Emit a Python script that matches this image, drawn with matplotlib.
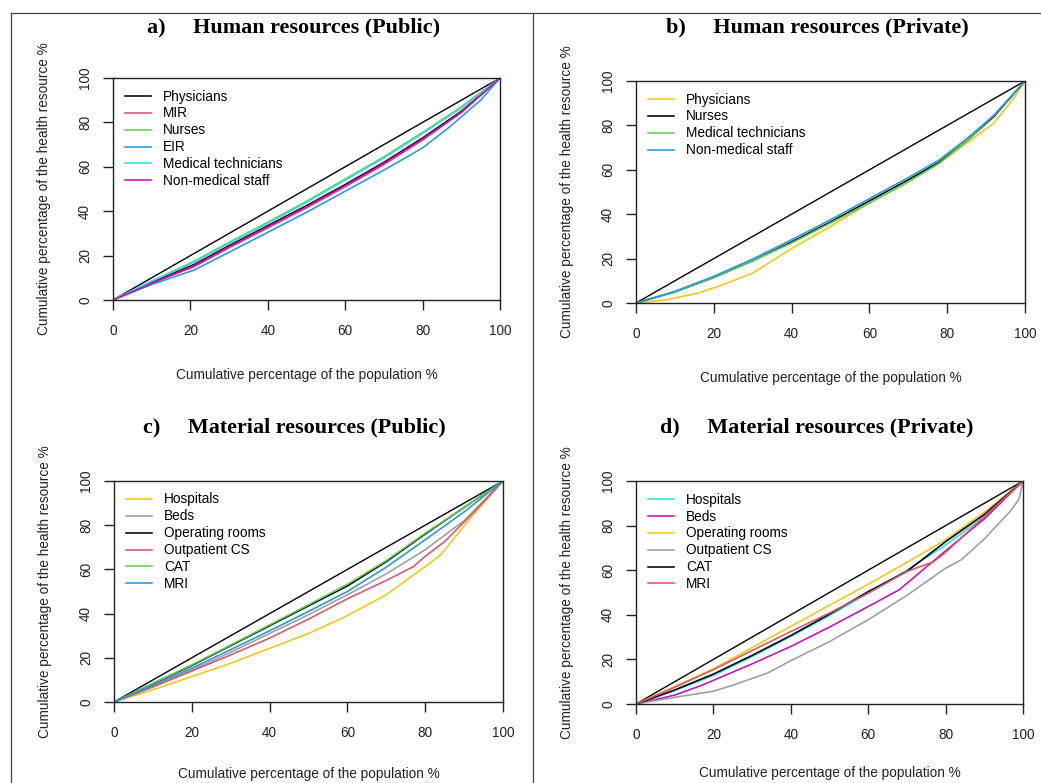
import matplotlib.pyplot as plt
from matplotlib.lines import Line2D

# R default palette colours
BLACK = 'black'
RED = '#DF536B'
GREEN = '#61D04F'
BLUE = '#2297E6'
CYAN = '#28E2E5'
MAGENTA = '#CD0BBC'
YELLOW = '#F5C710'
GRAY = '#9E9E9E'

equality = [0, 100]

# a) Human resources, public sector
a_pop = [0, 10, 21, 30, 40, 50, 60, 70, 80, 90, 100]
a_physicians = [0, 8, 16, 24.5, 33.5, 42.5, 52, 62, 73, 85, 100]
a_mir = [0, 7.5, 15, 23.5, 32.5, 41.5, 51, 61, 72, 84.5, 100]
a_nurses = [0, 8.5, 17.5, 26, 35, 44.5, 54.5, 64.5, 75.5, 87, 100]
a_eir_pop = [0, 10, 21, 30, 40, 50, 60, 70, 80, 87, 95, 100]
a_eir = [0, 7, 13.5, 21.5, 30.5, 39.5, 49, 58.5, 68.5, 78, 90, 100]
a_medtech = [0, 8.5, 17, 25.5, 34.5, 44, 54, 64, 75, 86.5, 100]
a_nonmed = [0, 7.5, 15.5, 24, 33, 42, 51.5, 61.5, 72.5, 84.5, 100]

# b) Human resources, private sector
b_phys_pop = [0, 8, 16, 22, 30, 40, 50, 60, 70, 78, 85, 92, 97, 100]
b_physicians = [0, 1.5, 4.5, 8, 13.5, 24.5, 34.5, 45, 54.5, 63, 72, 81, 92, 100]
b_pop = [0, 10, 20, 30, 40, 50, 60, 70, 78, 85, 92, 100]
b_nurses = [0, 5, 11.5, 19, 27.5, 36.5, 46, 55.5, 63.5, 73, 84, 100]
b_medtech = [0, 5, 11.5, 19, 27, 36, 45, 54.5, 63, 73, 84.5, 100]
b_nonmed = [0, 5.3, 12, 19.8, 28.5, 37.5, 47, 56.5, 64.5, 74, 84.5, 100]

# c) Material resources, public sector
c_hosp_pop = [0, 10, 20, 30, 40, 50, 59, 70, 80, 84, 92, 100]
c_hospitals = [0, 5.5, 11.5, 17.5, 24.3, 31, 38.2, 48.5, 61.3, 66.6, 84, 100]
c_pop = [0, 10, 20, 30, 40, 50, 60, 70, 80, 90, 100]
c_beds = [0, 7, 14.5, 22.5, 31, 39.5, 48.5, 58, 68.9, 82, 100]
c_oprooms = [0, 8.3, 16.5, 25.5, 34.5, 43.5, 52.5, 63.5, 76, 88, 100]
c_out_pop = [0, 10, 20, 30, 40, 50, 60, 70, 77, 80, 85, 92, 100]
c_outpatient = [0, 6.8, 14, 21.3, 28.9, 37.5, 46.7, 55, 61.3, 65.9, 72.6, 85, 100]
c_cat = [0, 8.5, 16.8, 25.8, 34.9, 44, 53.3, 64, 76.4, 88, 100]
c_mri = [0, 7.6, 15.3, 23.7, 32.2, 41, 50, 61, 73.4, 86, 100]

# d) Material resources, private sector
d_pop = [0, 10, 20, 30, 40, 50, 60, 70, 80, 90, 100]
d_hospitals = [0, 6, 12.8, 21.3, 30.3, 39.7, 49.7, 60, 71.3, 84, 100]
d_beds_pop = [0, 10, 17, 30, 40, 50, 60, 68, 80, 90, 100]
d_beds = [0, 4, 8.4, 18, 25.8, 34.5, 43.7, 51.2, 68.7, 83, 100]
d_oprooms = [0, 7.8, 15.8, 25.3, 34.8, 44.3, 53.7, 63.5, 73.6, 86, 100]
d_out_pop = [0, 10, 20, 25, 34, 40, 50, 60, 70, 80, 84, 90, 97, 99, 100]
d_outpatient = [0, 3, 5.7, 8.4, 13.9, 19.4, 28, 37.8, 48.7, 60.9, 64.6, 74, 87, 92, 100]
d_cat = [0, 6.3, 13.4, 21.8, 30.7, 40.3, 50.4, 59.5, 72.8, 85, 100]
d_mri_pop = [0, 10, 20, 30, 40, 50, 60, 70, 77, 80, 90, 100]
d_mri = [0, 7.5, 15.4, 24, 32.5, 40.8, 49.7, 59.4, 63.9, 68, 84, 100]

W, H = 1041, 783
fig = plt.figure(figsize=(W / 100, H / 100), dpi=100)

SANS = 'Liberation Sans'
SERIF = 'Liberation Serif'
FS = 9.8
INK = '#222222'


def px_axes(left, top, right, bottom):
    return [left / W, 1 - bottom / H, (right - left) / W, (bottom - top) / H]


def panel(rect, series, title, title_xy, xlab_y=-0.338):
    ax = fig.add_axes(px_axes(*rect))
    ax.plot(equality, equality, color=BLACK, lw=1.0)
    for x, y, col, lab in series:
        ax.plot(x, y, color=col, lw=1.15, label=lab)
    ax.set_xlim(0, 100)
    ax.set_ylim(0, 100)
    ax.set_xticks([0, 20, 40, 60, 80, 100])
    ax.set_yticks([0, 20, 40, 60, 80, 100])
    for sp in ax.spines.values():
        sp.set_color(INK)
        sp.set_linewidth(1.0)
    ax.tick_params(axis='both', length=7, width=1.0, color=INK,
                   labelsize=FS, labelcolor=INK)
    ax.tick_params(axis='x', pad=10)
    ax.tick_params(axis='y', pad=8, labelrotation=90)
    for t in ax.get_yticklabels():
        t.set_verticalalignment('center')
    for t in ax.get_xticklabels() + ax.get_yticklabels():
        t.set_fontfamily(SANS)
    ax.text(0.5, xlab_y, 'Cumulative percentage of the population %',
            transform=ax.transAxes, ha='center', va='center',
            fontsize=FS, family=SANS, color=INK)
    ax.text(-0.178, 0.5, 'Cumulative percentage of the health resource %',
            transform=ax.transAxes, ha='center', va='center', rotation=90,
            fontsize=FS, family=SANS, color=INK)
    handles, labels = ax.get_legend_handles_labels()
    ax.legend(handles, labels, loc='upper left', bbox_to_anchor=(0.031, 0.948),
              frameon=False, borderpad=0, borderaxespad=0,
              handlelength=1.9, handletextpad=0.9, labelspacing=0.215,
              prop={'family': SANS, 'size': FS})
    fig.text(title_xy[0] / W, 1 - title_xy[1] / H, title,
             ha='center', va='center', fontsize=15.9, fontweight='bold',
             family=SERIF)
    return ax


panel((113, 78, 500, 300), [
    (a_pop, a_physicians, BLACK, 'Physicians'),
    (a_pop, a_mir, RED, 'MIR'),
    (a_pop, a_nurses, GREEN, 'Nurses'),
    (a_eir_pop, a_eir, BLUE, 'EIR'),
    (a_pop, a_medtech, CYAN, 'Medical technicians'),
    (a_pop, a_nonmed, MAGENTA, 'Non-medical staff'),
], 'a)     Human resources (Public)', (294, 27))

panel((636, 81, 1025, 303), [
    (b_phys_pop, b_physicians, YELLOW, 'Physicians'),
    (b_pop, b_nurses, BLACK, 'Nurses'),
    (b_pop, b_medtech, GREEN, 'Medical technicians'),
    (b_pop, b_nonmed, BLUE, 'Non-medical staff'),
], 'b)     Human resources (Private)', (817, 27))

panel((114, 481, 503, 702), [
    (c_hosp_pop, c_hospitals, YELLOW, 'Hospitals'),
    (c_pop, c_beds, GRAY, 'Beds'),
    (c_pop, c_oprooms, BLACK, 'Operating rooms'),
    (c_out_pop, c_outpatient, RED, 'Outpatient CS'),
    (c_pop, c_cat, GREEN, 'CAT'),
    (c_pop, c_mri, BLUE, 'MRI'),
], 'c)     Material resources (Public)', (294, 427), xlab_y=-0.325)

panel((636, 481, 1023, 704), [
    (d_pop, d_hospitals, CYAN, 'Hospitals'),
    (d_beds_pop, d_beds, MAGENTA, 'Beds'),
    (d_pop, d_oprooms, YELLOW, 'Operating rooms'),
    (d_out_pop, d_outpatient, GRAY, 'Outpatient CS'),
    (d_pop, d_cat, BLACK, 'CAT'),
    (d_mri_pop, d_mri, RED, 'MRI'),
], 'd)     Material resources (Private)', (817, 427), xlab_y=-0.310)

# outer frame of the figure grid
frame = dict(color='#444444', lw=0.9, transform=fig.transFigure)
fig.add_artist(Line2D([11 / W, 1], [1 - 13 / H, 1 - 13 / H], **frame))
fig.add_artist(Line2D([11 / W, 11 / W], [0, 1 - 13 / H], **frame))
fig.add_artist(Line2D([533 / W, 533 / W], [0, 1 - 13 / H], **frame))

fig.savefig('out.png', dpi=100)
